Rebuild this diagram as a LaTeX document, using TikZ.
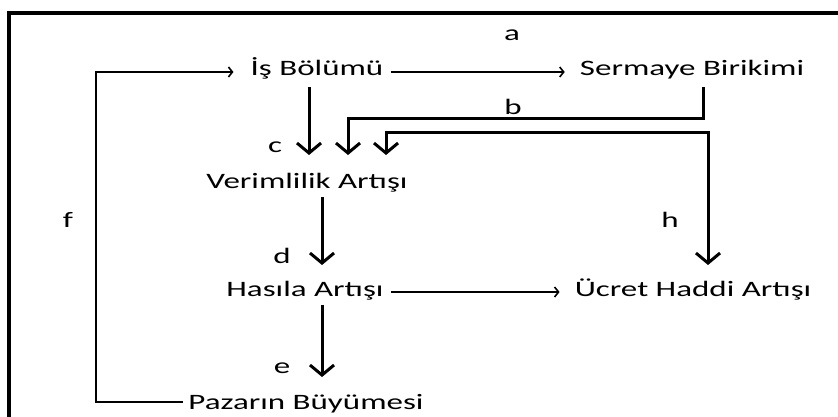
\documentclass[tikz,border=0pt]{standalone}
\usepackage{fontspec}
\setmainfont[FakeStretch=1.5]{Carlito}
\usetikzlibrary{arrows.meta,calc}
\tikzset{
  lbl/.style={inner sep=0pt, anchor=base, font=\fontsize{22}{26}\selectfont},
  term/.style={inner sep=0pt, anchor=base, font=\fontsize{22}{26}\selectfont},
  thinarr/.style={line width=1.6pt, -{Straight Barb[length=4pt,width=10pt]}},
  thickarr/.style={line width=3pt, line join=miter, -{Straight Barb[length=10pt,width=24pt]}},
  thickboth/.style={line width=3pt, line join=miter, {Straight Barb[length=10pt,width=24pt]}-{Straight Barb[length=10pt,width=24pt]}},
  thinline/.style={line width=1.6pt}
}
\begin{document}
\begin{tikzpicture}[x=1pt,y=-1pt]
\clip (0,0) rectangle (838,417);
\fill[white] (0,0) rectangle (838,417);
% outer frame
\draw[line width=3.5pt] (9,13) rectangle (860,440);

% terms
\node[term] (is)  at (317,76)  {İş Bölümü};
\node[term] (ser) at (692,76)  {Sermaye Birikimi};
\node[term] (ver) at (307,188) {Verimlilik Artışı};
\node[term] (has) at (305,296) {Hasıla Artışı};
\node[term] (ucr) at (693,296) {Ücret Haddi Artışı};
\node[term] (paz) at (306,409) {Pazarın Büyümesi};

% letters
\node[lbl] (la) at (512,41)  {a};
\node[lbl] (lb) at (513,115) {b};
\node[lbl] (lc) at (275,153) {c};
\node[lbl] (ld) at (282,263) {d};
\node[lbl] (le) at (282,373) {e};
\node[lbl] (lf) at (68,227)  {f};
\node[lbl] (lh) at (670,227) {h};

% thin horizontal links
\draw[thinarr] ($(is.base east)+(7,-4)$) -- ($(ser.base west)+(-15,-4)$);
\draw[thinarr] ($(has.base east)+(7,-4)$) -- ($(ucr.base west)+(-15,-4)$);
% feedback loop f
\coordinate (fl) at (96,240);
\draw[thinarr] ($(paz.base west)+(-5,-7)$) -| (fl) |- ($(is.base west)+(-17,-4)$);

% thick vertical links
\draw[thickarr] ($(is.base)+(-8,11)$) -- ($(ver.base)+(2,-33)$);
\draw[thickarr] ($(ser.base)+(11,11)$) |- ($(ver.base)+(41,-69)$) -- ($(ver.base)+(41,-33)$);
\draw[thickboth] ($(ver.base)+(79,-33)$) |- ($(ucr.base)+(15,-163)$) -- ($(ucr.base)+(15,-31)$);
\draw[thickarr] ($(ver.base)+(15,9)$) -- ($(has.base)+(17,-31)$);
\draw[thickarr] ($(has.base)+(17,9)$) -- ($(paz.base)+(16,-32)$);
\end{tikzpicture}
\end{document}
